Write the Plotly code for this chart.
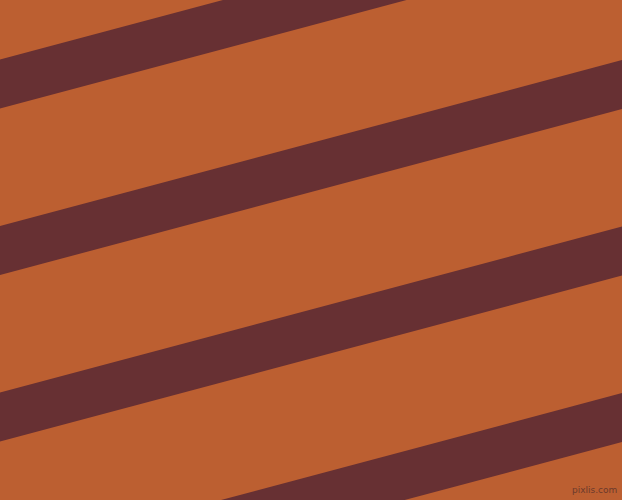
import plotly.graph_objects as go

# stripe edges (pixels from top), at the left and right border
stripe_top_left = [59.5, 226, 392.5, 559]
stripe_top_right = [-106.5, 60, 226.5, 393]
stripe_thickness = [49, 49, 49, 49]

x_left, x_right = 0, 622
bg_color = "#BC5F31"
stripe_color = "#673033"

fig = go.Figure()

for tl, tr, th in zip(stripe_top_left, stripe_top_right, stripe_thickness):
    fig.add_trace(go.Scatter(
        x=[x_left, x_right, x_right, x_left, x_left],
        y=[tl, tr, tr + th, tl + th, tl],
        mode="lines",
        fill="toself",
        fillcolor=stripe_color,
        line=dict(color=stripe_color, width=0),
        hoverinfo="skip",
        showlegend=False,
    ))

fig.add_annotation(
    text="pixlis.com", x=1, y=0, xref="paper", yref="paper",
    xanchor="right", yanchor="bottom", xshift=-3, yshift=3,
    showarrow=False, font=dict(family="DejaVu Sans", size=9, color="#6b3a2c"),
)

fig.update_layout(
    width=622, height=500,
    margin=dict(l=0, r=0, t=0, b=0),
    plot_bgcolor=bg_color,
    paper_bgcolor=bg_color,
    xaxis=dict(range=[x_left, x_right], visible=False, fixedrange=True),
    yaxis=dict(range=[500, 0], visible=False, fixedrange=True),
)

# browser default body margin would shift the figure, drop it
fig.write_html(
    "out.html",
    config={"displayModeBar": False},
    post_script="document.body.style.margin='0';document.body.style.overflow='hidden';",
)
